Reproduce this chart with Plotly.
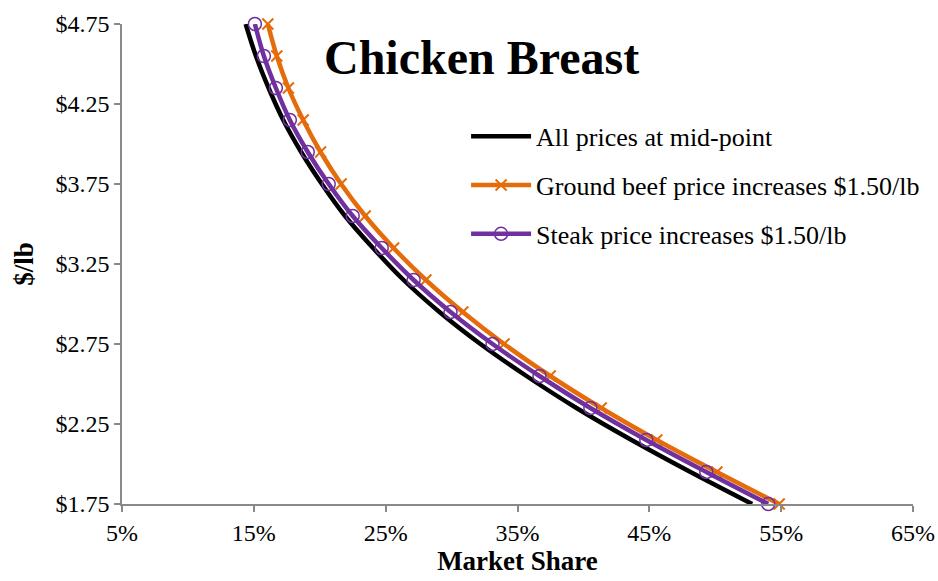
import plotly.graph_objects as go

# Price points ($/lb) shared by every scenario, high to low
price = [4.75, 4.55, 4.35, 4.15, 3.95, 3.75, 3.55, 3.35, 3.15, 2.95,
         2.75, 2.55, 2.35, 2.15, 1.95, 1.75]

# Chicken breast market share (%) at each price
share_midpoint = [14.38, 15.16, 16.12, 17.23, 18.59, 20.16, 21.92, 24.04,
                  26.36, 29.08, 32.19, 35.68, 39.47, 43.65, 48.12, 52.80]
share_beef_up = [16.06, 16.74, 17.62, 18.74, 20.06, 21.62, 23.45, 25.60,
                 28.05, 30.85, 33.98, 37.48, 41.35, 45.56, 50.12, 54.85]
share_steak_up = [15.08, 15.76, 16.67, 17.73, 19.09, 20.68, 22.50, 24.70,
                  27.12, 29.92, 33.11, 36.67, 40.53, 44.77, 49.32, 54.02]

series_names = ["All prices at mid-point",
                "Ground beef price increases $1.50/lb",
                "Steak price increases $1.50/lb"]

x_ticks = [5, 15, 25, 35, 45, 55, 65]
x_tick_labels = ["5%", "15%", "25%", "35%", "45%", "55%", "65%"]
y_ticks = [1.75, 2.25, 2.75, 3.25, 3.75, 4.25, 4.75]
y_tick_labels = ["$1.75", "$2.25", "$2.75", "$3.25", "$3.75", "$4.25", "$4.75"]

SERIF = "Liberation Serif, Times New Roman, serif"
AXIS_GRAY = "#898989"

fig = go.Figure()

fig.add_trace(go.Scatter(
    x=share_midpoint, y=price, name=series_names[0], mode="lines",
    line=dict(color="#000000", width=4.5, shape="spline"),
    legendgroup="a", cliponaxis=False,
))
fig.add_trace(go.Scatter(
    x=share_beef_up, y=price, name=series_names[1], mode="lines+markers",
    line=dict(color="#E46C0A", width=4.5, shape="spline"),
    marker=dict(symbol="x-thin", size=11, line=dict(color="#E46C0A", width=2)),
    legendgroup="b", cliponaxis=False,
))
fig.add_trace(go.Scatter(
    x=share_steak_up, y=price, name=series_names[2], mode="lines+markers",
    line=dict(color="#7030A0", width=4.5, shape="spline"),
    marker=dict(symbol="circle-open", size=13, line=dict(color="#7030A0", width=1.5)),
    legendgroup="c", cliponaxis=False,
))

fig.update_layout(
    width=938, height=581,
    margin=dict(l=122, r=25, t=24, b=77, autoexpand=False),
    paper_bgcolor="white", plot_bgcolor="white",
    font=dict(family=SERIF, size=24, color="#000000"),
    showlegend=True,
    legend=dict(
        x=0.435, y=0.815, xanchor="left", yanchor="top",
        font=dict(family=SERIF, size=26, color="#000000"),
        bgcolor="rgba(0,0,0,0)", tracegroupgap=12, itemwidth=60,
    ),
    annotations=[dict(
        text="<b>Chicken Breast</b>", x=0.455, y=0.93,
        xref="paper", yref="paper", xanchor="center", yanchor="middle",
        showarrow=False, font=dict(family=SERIF, size=48, color="#000000"),
    )],
)

fig.update_xaxes(
    range=[5, 65], tickmode="array", tickvals=x_ticks, ticktext=x_tick_labels,
    automargin=False,
    showgrid=False, zeroline=False,
    showline=True, linecolor=AXIS_GRAY, linewidth=1.5,
    ticks="outside", ticklen=6, tickcolor=AXIS_GRAY, tickwidth=1.5,
    tickfont=dict(family=SERIF, size=24),
    title=dict(text="<b>Market Share</b>", font=dict(family=SERIF, size=27), standoff=4),
)
fig.update_yaxes(
    range=[1.75, 4.75], tickmode="array", tickvals=y_ticks, ticktext=y_tick_labels,
    automargin=False,
    showgrid=False, zeroline=False,
    showline=True, linecolor=AXIS_GRAY, linewidth=1.5,
    ticks="outside", ticklen=6, tickcolor=AXIS_GRAY, tickwidth=1.5,
    tickfont=dict(family=SERIF, size=24),
    title=dict(text="<b>$/lb</b>", font=dict(family=SERIF, size=27), standoff=14),
)

fig.write_html("out.html")
